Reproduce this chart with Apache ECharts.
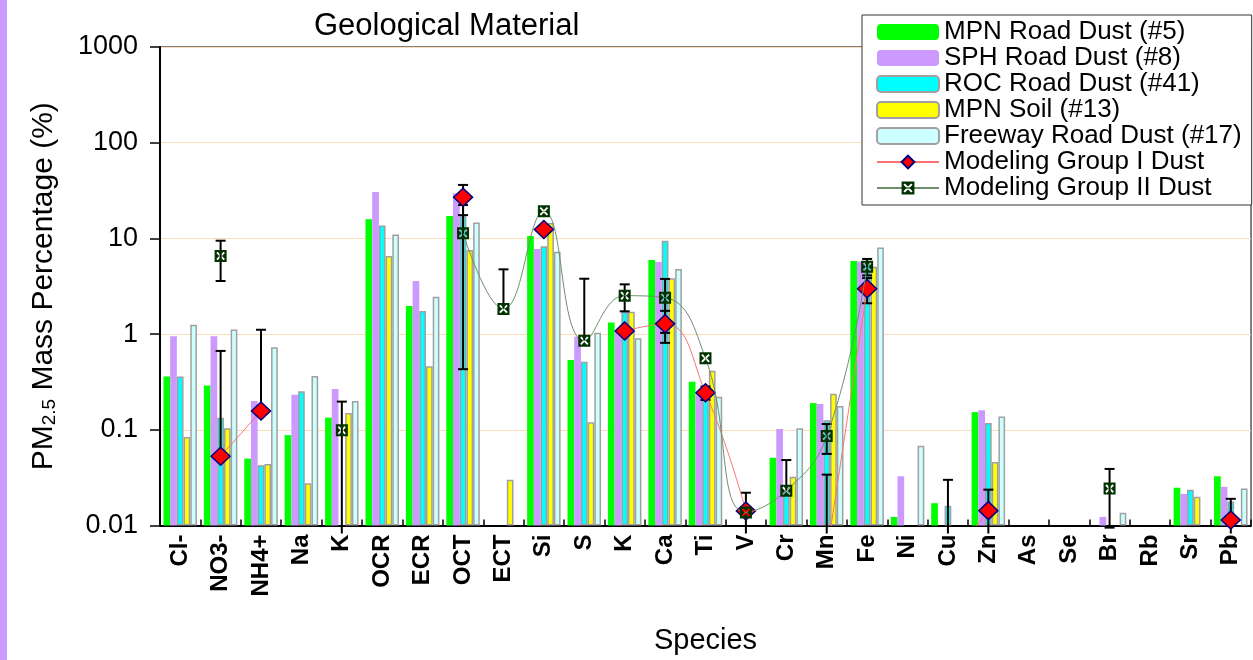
<!DOCTYPE html>
<html>
<head>
<meta charset="utf-8">
<script src="https://cdn.jsdelivr.net/npm/echarts@6/dist/echarts.min.js"></script>
<style>
html,body{margin:0;padding:0;background:#fff;}
#chart{width:1253px;height:660px;}
</style>
</head>
<body>
<div id="chart"></div>
<script>
// ---------- DATA ----------
const categories = ['Cl-','NO3-','NH4+','Na','K','OCR','ECR','OCT','ECT','Si','S','K','Ca','Ti','V','Cr','Mn','Fe','Ni','Cu','Zn','As','Se','Br','Rb','Sr','Pb'];
const yTickLabels = ['0.01','0.1','1','10','100','1000'];

const mpnRoadDust = [0.36,0.29,0.050,0.088,0.134,15.9,1.97,17.1,null,10.6,0.536,1.32,5.94,0.318,null,0.051,0.19,5.8,0.0123,0.0171,0.153,null,null,null,null,0.0248,0.0327];
const sphRoadDust = [0.95,0.95,0.20,0.233,0.267,30.5,3.59,29.6,null,7.74,0.94,1.1,5.66,0.25,null,0.102,0.186,5.75,0.0327,null,0.16,null,null,0.0123,null,0.0214,0.0254];
const rocRoadDust = [0.36,0.134,0.0426,0.253,null,13.6,1.74,17.0,null,8.26,0.515,1.71,9.46,0.24,null,0.023,0.126,5.5,null,0.0161,0.118,null,null,null,null,0.0237,0.0178];
const mpnSoil     = [0.084,0.104,0.044,0.0276,0.15,6.55,0.46,7.56,0.030,14.5,0.12,1.71,3.83,0.415,null,0.0324,0.238,5.05,null,null,0.046,null,null,null,null,0.020,null];
const freewayDust = [1.25,1.12,0.728,0.365,0.20,11.0,2.46,14.7,null,7.26,1.035,0.904,4.79,0.222,null,0.104,0.177,8.04,0.068,null,0.138,null,null,0.0136,null,null,0.0243];

const groupI     = [null,0.053,0.157,null,null,null,null,26.9,null,12.4,null,1.08,1.28,0.244,0.0142,null,0.005,2.98,null,0.004,0.0143,null,null,null,null,null,0.0114];
const groupIHigh = [null,0.667,1.11,null,null,null,null,36.2,null,null,null,null,1.75,0.283,null,null,0.034,3.85,null,0.030,0.0237,null,null,null,null,null,0.019];
const groupILow  = [null,null,null,null,null,null,null,17.5,null,null,null,null,0.81,0.205,null,null,null,2.1,null,0.001,0.0049,null,null,null,null,null,0.0038];

const groupII     = [null,6.55,null,null,0.099,null,null,11.3,1.83,19.2,0.853,2.52,2.4,0.559,0.0137,0.0231,0.086,5.05,null,null,null,null,null,0.0243,null,null,null];
const groupIIHigh = [null,9.46,null,null,0.197,null,null,22.3,4.75,null,3.79,3.31,3.77,null,0.022,0.0483,0.115,6.1,null,null,null,null,null,0.039,null,null,null];
const groupIILow  = [null,3.59,null,null,0.001,null,null,0.43,null,null,null,1.73,1.03,null,0.0054,null,0.056,4.1,null,null,null,null,null,0.0095,null,null,null];

// ---------- BUILD ----------
const FONT = 'Liberation Sans, Arial, sans-serif';
function errData(vals, lows, highs){
  const out = [];
  vals.forEach((v,i)=>{
    if(v==null) return;
    const hasLow = lows[i]!=null, hasHigh = highs[i]!=null;
    if(!hasLow && !hasHigh) return;
    out.push([i, hasLow?lows[i]:v, hasHigh?highs[i]:v, hasLow?1:0, hasHigh?1:0, v]);
  });
  return out;
}
function renderErr(params, api){
  const cs = params.coordSys;
  const bottom = cs.y + cs.height + 8, top = cs.y;
  const i = api.value(0);
  const pLow = api.coord([i, api.value(1)]);
  const pHigh = api.coord([i, api.value(2)]);
  const clampY = y => Math.max(top, Math.min(bottom, y));
  const x = pLow[0];
  const y1 = clampY(pLow[1]), y2 = clampY(pHigh[1]);
  const hw = 5;
  const st = {stroke:'#000', lineWidth:2};
  const children = [{type:'line', shape:{x1:x,y1:y1,x2:x,y2:y2}, style:st}];
  if(api.value(3) && pLow[1] <= bottom) children.push({type:'line', shape:{x1:x-hw,y1:y1,x2:x+hw,y2:y1}, style:st});
  if(api.value(4) && pHigh[1] <= bottom) children.push({type:'line', shape:{x1:x-hw,y1:y2,x2:x+hw,y2:y2}, style:st});
  return {type:'group', children};
}
// Square marker with an X-shaped hole (nonzero winding: hole drawn in reverse direction)
function xMarkerPath(){
  const L = 10.2, d = 1.9, c = 12, r = Math.SQRT1_2;
  const pts = [[-d,-L],[d,-L],[d,-d],[L,-d],[L,d],[d,d],[d,L],[-d,L],[-d,d],[-L,d],[-L,-d],[-d,-d]]
    .map(([x,y]) => [c + (x - y) * r, c + (x + y) * r]).reverse();
  let p = 'M0 0L24 0L24 24L0 24Z';
  p += 'M' + pts.map(q => q[0].toFixed(2) + ' ' + q[1].toFixed(2)).join('L') + 'Z';
  return 'path://' + p;
}

const barW = 6.7;
function barSeries(name, data, color, border){
  return {
    name, type:'bar', data, barWidth:barW, barGap:'0%', z:2,
    itemStyle: border ? {color, borderColor:'#a0a0a0', borderWidth:1.5} : {color}
  };
}

const chart = echarts.init(document.getElementById('chart'), null, {renderer:'canvas'});
chart.setOption({
  animation:false,
  backgroundColor:'#fff',
  textStyle:{fontFamily:FONT},
  graphic:[{type:'rect', shape:{x:0,y:0,width:7,height:660}, style:{fill:'#cc99ff'}}],
  title:{
    text:'Geological Material', left:309, top:6,
    textStyle:{fontFamily:FONT, fontSize:31, fontWeight:'normal', color:'#000'}
  },
  legend:{
    orient:'vertical', left:862, top:15,
    padding:[4,10,4,14], itemGap:0, itemWidth:62, itemHeight:16,
    backgroundColor:'#fff', borderColor:'#333', borderWidth:1,
    textStyle:{fontFamily:FONT, fontSize:26, color:'#000', lineHeight:25},
    data:['MPN Road Dust (#5)','SPH Road Dust (#8)','ROC Road Dust (#41)','MPN Soil (#13)','Freeway Road Dust (#17)','Modeling Group I Dust','Modeling Group II Dust']
  },
  grid:{left:160, right:2, top:47, bottom:134.5, show:true, borderColor:'#000', borderWidth:1,
        backgroundColor:'transparent', containLabel:false, outerBoundsMode:'none'},
  xAxis:{
    type:'category', data:categories,
    name:'Species', nameLocation:'middle', nameGap:101,
    nameTextStyle:{fontFamily:FONT, fontSize:29, color:'#000'},
    axisLine:{lineStyle:{color:'#000', width:2}},
    axisTick:{show:true, inside:true, length:6, interval:0, alignWithLabel:false, lineStyle:{color:'#000', width:1.5}},
    axisLabel:{interval:0, rotate:90, margin:9, fontFamily:FONT, fontSize:24, fontWeight:'bold', color:'#000'},
    splitLine:{show:false}
  },
  yAxis:{
    type:'log', logBase:10, min:0.01, max:1000, startValue:0.01,
    name:'{a|PM}{s|2.5}{a| Mass Percentage (%)}', nameLocation:'middle', nameGap:101,
    nameTextStyle:{fontFamily:FONT, color:'#000', rich:{
      a:{fontFamily:FONT, fontSize:30, color:'#000'},
      s:{fontFamily:FONT, fontSize:19, color:'#000', verticalAlign:'bottom', padding:[10,0,0,0]}
    }},
    axisLine:{show:true, lineStyle:{color:'#000', width:2}},
    axisTick:{show:true, length:10, lineStyle:{color:'#000', width:1.5}},
    axisLabel:{margin:22, fontFamily:FONT, fontSize:27, color:'#000',
      formatter:function(v){ const k = Math.round(Math.log10(v)) + 2; return yTickLabels[k] != null ? yTickLabels[k] : ''; }},
    splitLine:{show:true, lineStyle:{color:'#fddcbc', width:1}}
  },
  series:[
    barSeries('MPN Road Dust (#5)', mpnRoadDust, '#00ff00', false),
    barSeries('SPH Road Dust (#8)', sphRoadDust, '#cc99ff', false),
    barSeries('ROC Road Dust (#41)', rocRoadDust, '#00ffff', true),
    barSeries('MPN Soil (#13)', mpnSoil, '#ffff00', true),
    barSeries('Freeway Road Dust (#17)', freewayDust, '#ccffff', true),
    {
      name:'errI', type:'custom', z:3, clip:false, renderItem:renderErr,
      data:errData(groupI, groupILow, groupIHigh), encode:{x:0, y:[1,2]}, silent:true
    },
    {
      name:'errII', type:'custom', z:3, clip:false, renderItem:renderErr,
      data:errData(groupII, groupIILow, groupIIHigh), encode:{x:0, y:[1,2]}, silent:true
    },
    {
      name:'Modeling Group I Dust', type:'line', data:groupI, z:5, clip:true,
      smooth:0.45, connectNulls:false,
      symbol:'diamond', symbolSize:[19,18], showAllSymbol:true,
      lineStyle:{color:'#ff7070', width:1},
      itemStyle:{color:'#ff0000', borderColor:'#000080', borderWidth:1.5}
    },
    {
      name:'Modeling Group II Dust', type:'line', data:groupII, z:6, clip:true,
      smooth:0.45, connectNulls:false,
      symbol:xMarkerPath(), symbolSize:12, showAllSymbol:true, symbolKeepAspect:true,
      lineStyle:{color:'#6f8f6f', width:1},
      itemStyle:{color:'#003300', borderWidth:0}
    }
  ]
});
</script>
</body>
</html>
